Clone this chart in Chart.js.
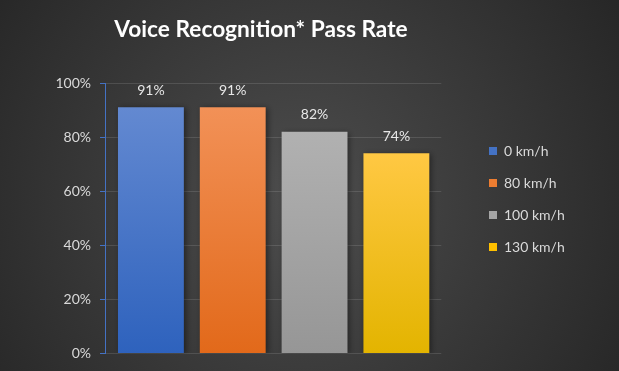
<!DOCTYPE html>
<html>
<head>
<meta charset="utf-8">
<script src="https://cdn.jsdelivr.net/npm/chart.js@4"></script>
<style>
  html, body { margin: 0; padding: 0; background: #2a2a2a; }
  canvas { display: block; }
</style>
</head>
<body>
<canvas id="passRateChart" width="619" height="371"></canvas>
<script>
// Données du graphique
const categories = ['0 km/h', '80 km/h', '100 km/h', '130 km/h'];
const passRate = [91, 91, 82, 74];
const yMax = 100;
const yStep = 20;

// Couleurs
const legendColors = ['#4472c4', '#ed7d31', '#a5a5a5', '#ffc000'];
const barTop = ['#6389d1', '#f29157', '#b1b1b1', '#ffc843'];
const barBottom = ['#2e62bd', '#e2691a', '#969696', '#e3b400'];

const textColor = '#d9d9d9';
const fontFamily = 'Lato, "Open Sans", sans-serif';

// Fond dégradé + titre
const backgroundPlugin = {
  id: 'background',
  beforeDraw(chart) {
    const { ctx, width, height } = chart;
    const g = ctx.createRadialGradient(300, 200, 0, 300, 200, 380);
    g.addColorStop(0, '#4d4d4d');
    g.addColorStop(1, '#262626');
    ctx.save();
    ctx.fillStyle = g;
    ctx.fillRect(0, 0, width, height);
    ctx.restore();
  },
  afterDraw(chart) {
    const ctx = chart.ctx;
    ctx.save();
    ctx.fillStyle = '#ffffff';
    ctx.font = 'bold 22.7px ' + fontFamily;
    ctx.textAlign = 'center';
    ctx.textBaseline = 'alphabetic';
    ctx.fillText('Voice Recognition* Pass Rate', 261, 37);
    ctx.restore();
  }
};

// Ajustements de mise en page : marge des catégories et position de la légende
const layoutPlugin = {
  id: 'layoutTweaks',
  afterLayout(chart) {
    const area = chart.chartArea;
    const xs = chart.scales.x;
    xs.left = area.left + 5;
    xs.right = area.right - 4;
    xs.width = xs.right - xs.left;
    xs.configure();

    const lg = chart.legend;
    if (!lg) return;
    const dx = 471 - lg.left;
    lg.left += dx;
    lg.right += dx;
  }
};

// Ombre des barres
const shadowPlugin = {
  id: 'barShadow',
  beforeDatasetsDraw(chart) {
    const ctx = chart.ctx;
    ctx.save();
    ctx.shadowColor = 'rgba(0, 0, 0, 0.45)';
    ctx.shadowBlur = 6;
    ctx.shadowOffsetX = 2;
    ctx.shadowOffsetY = 1;
  },
  afterDatasetsDraw(chart) {
    chart.ctx.restore();
  }
};

// Étiquettes de valeurs
const valueLabelPlugin = {
  id: 'valueLabels',
  afterDatasetsDraw(chart) {
    const ctx = chart.ctx;
    const meta = chart.getDatasetMeta(0);
    ctx.save();
    ctx.fillStyle = '#e8e8e8';
    ctx.font = '14px ' + fontFamily;
    ctx.textAlign = 'center';
    ctx.textBaseline = 'middle';
    meta.data.forEach((bar, i) => {
      ctx.fillText(passRate[i] + '%', bar.x, bar.y - 17);
    });
    ctx.restore();
  }
};

function barGradient(context) {
  const chart = context.chart;
  const i = context.dataIndex;
  if (!chart.chartArea) return legendColors[i];
  const y = chart.scales.y;
  const top = y.getPixelForValue(passRate[i]);
  const bottom = y.getPixelForValue(0);
  const g = chart.ctx.createLinearGradient(0, top, 0, bottom);
  g.addColorStop(0, barTop[i]);
  g.addColorStop(1, barBottom[i]);
  return g;
}

const ctx = document.getElementById('passRateChart').getContext('2d');
new Chart(ctx, {
  type: 'bar',
  data: {
    labels: categories,
    datasets: [{
      label: 'Pass rate',
      data: passRate,
      backgroundColor: barGradient,
      borderWidth: 0,
      barPercentage: 0.805,
      categoryPercentage: 1
    }]
  },
  options: {
    responsive: false,
    animation: false,
    devicePixelRatio: 1,
    layout: {
      padding: { top: 83, bottom: 16, left: 40, right: 74 }
    },
    scales: {
      x: { display: false },
      y: {
        min: 0,
        max: yMax,
        afterFit(scale) { scale.width = 65; },
        ticks: {
          stepSize: yStep,
          padding: 9,
          color: textColor,
          font: { family: fontFamily, size: 14 },
          callback: v => v + '%'
        },
        grid: {
          color: 'rgba(255, 255, 255, 0.12)',
          tickColor: '#4472c4',
          tickLength: 5
        },
        border: { color: '#4472c4', width: 1 }
      }
    },
    plugins: {
      title: { display: false },
      tooltip: { enabled: false },
      legend: {
        position: 'right',
        align: 'start',
        fullSize: false,
        onClick: null,
        title: {
          display: true,
          text: ' ',
          font: { size: 10, lineHeight: 1 },
          padding: { top: 33, bottom: 0 }
        },
        labels: {
          boxWidth: 8,
          boxHeight: 8,
          padding: 18,
          color: textColor,
          font: { family: fontFamily, size: 14 },
          generateLabels: () => categories.map((c, i) => ({
            text: c,
            fillStyle: legendColors[i],
            strokeStyle: legendColors[i],
            lineWidth: 0,
            fontColor: textColor,
            hidden: false,
            index: i
          }))
        }
      }
    }
  },
  plugins: [backgroundPlugin, layoutPlugin, shadowPlugin, valueLabelPlugin]
});
</script>
</body>
</html>
